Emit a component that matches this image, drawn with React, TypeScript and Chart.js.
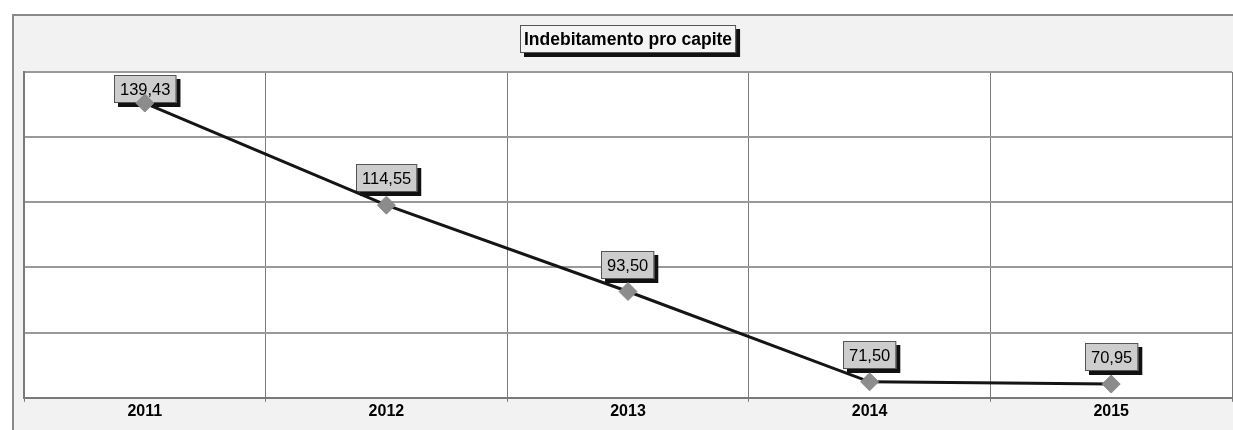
import React, { useEffect, useRef } from "react";
import { Chart, registerables } from "chart.js";

Chart.register(...registerables);

// Series data
const years = ["2011", "2012", "2013", "2014", "2015"];
const debtPerCapita = [139.43, 114.55, 93.5, 71.5, 70.95];
const chartTitle = "Indebitamento pro capite";

// Value axis range (no tick labels shown, only gridlines)
const yMin = 67.6;
const yMax = 147.0;
const yIntervals = 5;

const FONT = '"Liberation Sans", Arial, sans-serif';

const formatValue = (v: number) => v.toFixed(2).replace(".", ",");

// Page backdrop: outer frame tinted, plot area white
const backdropPlugin = {
  id: "backdrop",
  beforeDraw(chart: any) {
    const { ctx, width, height, chartArea } = chart;
    ctx.save();
    ctx.fillStyle = "#ffffff";
    ctx.fillRect(0, 0, width, height);
    ctx.fillStyle = "#f2f2f2";
    ctx.fillRect(12, 14, width - 12, height - 14);
    ctx.fillStyle = "#ffffff";
    ctx.fillRect(
      chartArea.left,
      chartArea.top,
      chartArea.right - chartArea.left,
      chartArea.bottom - chartArea.top
    );
    ctx.strokeStyle = "#8a8a8a";
    ctx.lineWidth = 2;
    ctx.beginPath();
    ctx.moveTo(13, height);
    ctx.lineTo(13, 15);
    ctx.lineTo(width, 15);
    ctx.stroke();
    ctx.restore();
  },
};

// Boxed label with a hard black drop shadow
function drawShadowBox(
  ctx: CanvasRenderingContext2D,
  x: number,
  y: number,
  w: number,
  h: number,
  fill: string
) {
  ctx.fillStyle = "#111111";
  ctx.fillRect(x + 4, y + 4, w, h);
  ctx.fillStyle = fill;
  ctx.fillRect(x, y, w, h);
  ctx.strokeStyle = "#555555";
  ctx.lineWidth = 1;
  ctx.strokeRect(x + 0.5, y + 0.5, w - 1, h - 1);
}

// Title box centred above the plot
const titleBoxPlugin = {
  id: "titleBox",
  afterDraw(chart: any) {
    const { ctx, chartArea } = chart;
    ctx.save();
    ctx.font = `bold 17.5px ${FONT}`;
    const tw = ctx.measureText(chartTitle).width;
    const w = tw + 8;
    const h = 28;
    const cx = (chartArea.left + chartArea.right) / 2;
    const x = Math.round(cx - w / 2);
    const y = 25;
    drawShadowBox(ctx, x, y, w, h, "#f4f4f4");
    ctx.fillStyle = "#000000";
    ctx.textAlign = "center";
    ctx.textBaseline = "middle";
    ctx.fillText(chartTitle, x + w / 2, y + h / 2 + 1);
    ctx.restore();
  },
};

// Value labels above each point
const valueLabelPlugin = {
  id: "valueLabels",
  beforeDatasetsDraw(chart: any) {
    const { ctx, chartArea } = chart;
    const meta = chart.getDatasetMeta(0);
    const data = chart.data.datasets[0].data as number[];
    ctx.save();
    ctx.font = `16.5px ${FONT}`;
    meta.data.forEach((pt: any, i: number) => {
      const text = formatValue(data[i]);
      const tw = ctx.measureText(text).width;
      const w = tw + 12;
      const h = 28;
      const x = Math.round(pt.x - w / 2);
      let y = Math.round(pt.y - 13 - h);
      if (y < chartArea.top + 3) y = chartArea.top + 3;
      drawShadowBox(ctx, x, y, w, h, "#cdcdcd");
      ctx.fillStyle = "#000000";
      ctx.textAlign = "center";
      ctx.textBaseline = "middle";
      ctx.fillText(text, x + w / 2, y + h / 2 + 1);
    });
    ctx.restore();
  },
};

export default function App() {
  const canvasRef = useRef<HTMLCanvasElement | null>(null);

  useEffect(() => {
    if (!canvasRef.current) return;
    const step = (yMax - yMin) / yIntervals;
    const chart = new Chart(canvasRef.current, {
      type: "line",
      data: {
        labels: years,
        datasets: [
          {
            data: debtPerCapita,
            borderColor: "#151515",
            borderWidth: 3,
            pointStyle: "rectRot",
            pointRadius: 9,
            pointBackgroundColor: "#8c8c8c",
            pointBorderColor: "#8c8c8c",
            pointBorderWidth: 1,
            tension: 0,
            fill: false,
          },
        ],
      },
      options: {
        responsive: false,
        animation: false,
        layout: {
          autoPadding: false,
          padding: { left: 24, top: 72, right: 1, bottom: 9 },
        },
        plugins: {
          legend: { display: false },
          title: { display: false },
          tooltip: { enabled: false },
        },
        scales: {
          x: {
            offset: true,
            grid: {
              offset: true,
              color: "#7a7a7a",
              lineWidth: 1,
              drawTicks: true,
              tickLength: 4,
            },
            border: { display: true, color: "#7a7a7a", width: 2 },
            ticks: {
              padding: 0,
              color: "#000000",
              font: { family: FONT, size: 16, weight: "bold" },
              maxRotation: 0,
            },
          },
          y: {
            min: yMin,
            max: yMax,
            afterBuildTicks(axis: any) {
              const ticks = [];
              for (let i = 0; i <= yIntervals; i++) {
                ticks.push({ value: yMin + i * step });
              }
              axis.ticks = ticks;
            },
            grid: { color: "#999999", lineWidth: 2, drawTicks: false },
            border: { display: true, color: "#7a7a7a", width: 2 },
            ticks: { display: false },
          },
        },
      },
      plugins: [backdropPlugin, valueLabelPlugin, titleBoxPlugin],
    });
    return () => chart.destroy();
  }, []);

  return (
    <div style={{ position: "fixed", left: 0, top: 0, width: 1233, height: 430 }}>
      <canvas ref={canvasRef} width={1233} height={430} style={{ display: "block" }} />
    </div>
  );
}
